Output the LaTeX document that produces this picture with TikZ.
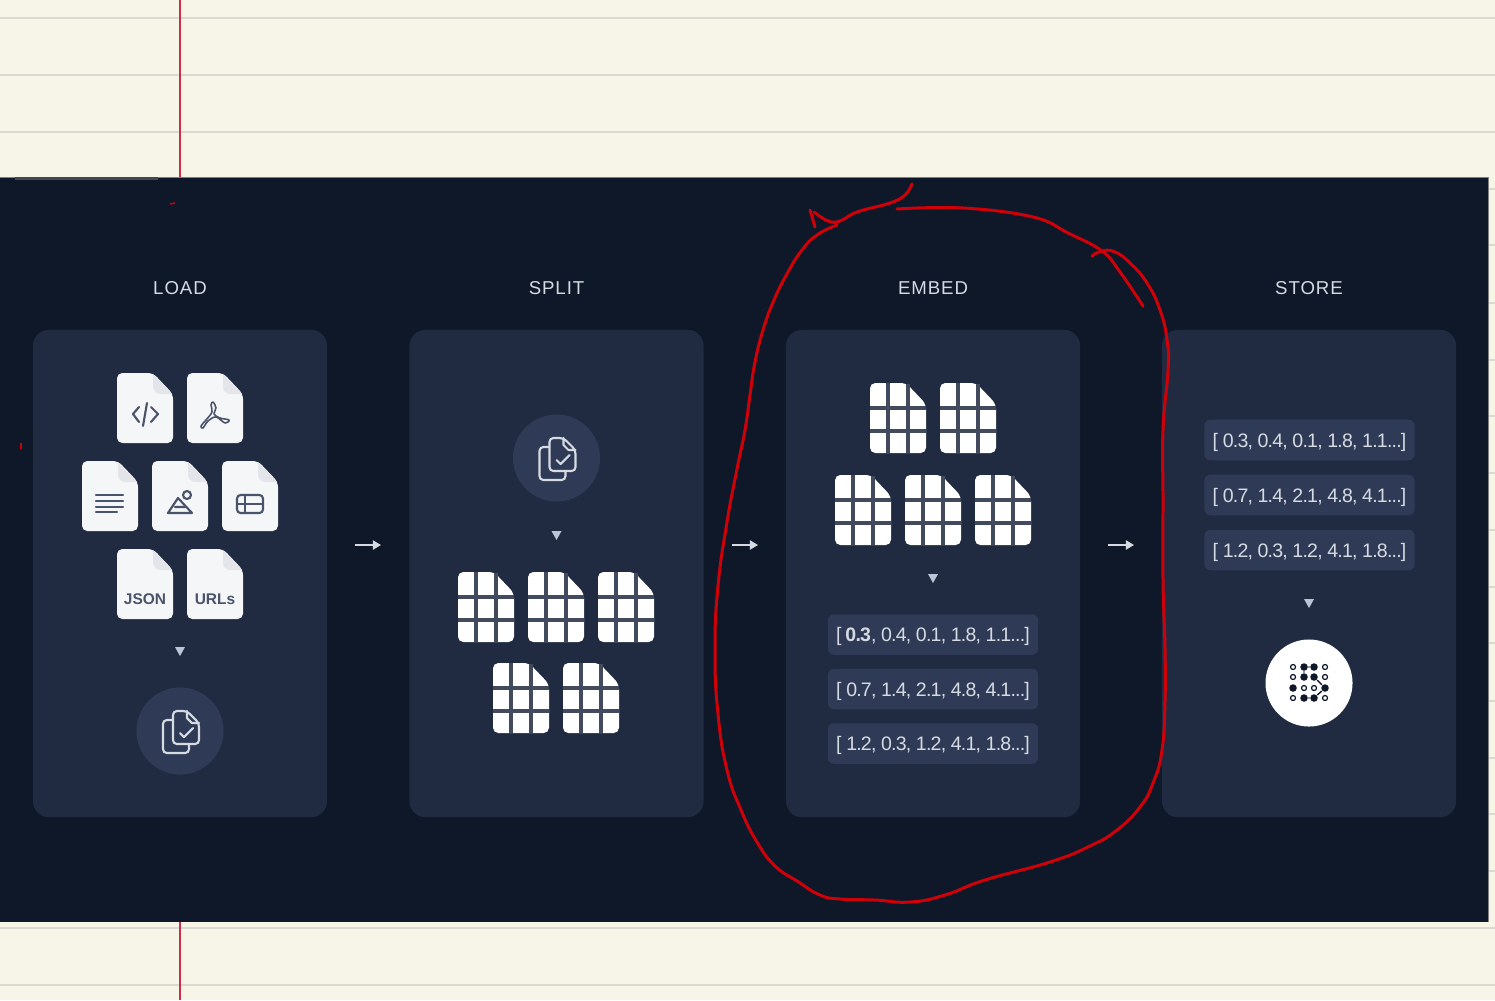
\documentclass[tikz,border=0pt]{standalone}
\usepackage{fontspec}
\setmainfont{Liberation Sans}
\usetikzlibrary{arrows.meta}
\definecolor{paper}{HTML}{F7F5E8}
\definecolor{ruling}{HTML}{DADAD3}
\definecolor{marginred}{HTML}{C9304A}
\definecolor{night}{HTML}{0F1829}
\definecolor{panelblue}{HTML}{202B42}
\definecolor{chipblue}{HTML}{2F3B56}
\definecolor{sheet}{HTML}{F5F6F8}
\definecolor{foldgray}{HTML}{E3E5EA}
\definecolor{glyphgray}{HTML}{49536A}
\definecolor{pale}{HTML}{D6DAE2}
\definecolor{tipgray}{HTML}{B9C5D6}
\definecolor{inkred}{HTML}{D00008}
\begin{document}
\begin{tikzpicture}[x=0.01cm, y=-0.01cm,
	panelbox/.style={shape=rectangle, fill=panelblue, rounded corners=0.16cm, minimum width=2.94cm, minimum height=4.87cm, inner sep=0pt},
	titlelabel/.style={text=pale, font=\fontsize{5.3}{7}\selectfont\addfontfeature{LetterSpace=5}},
	chipbox/.style={shape=rectangle, fill=chipblue, rounded corners=0.06cm, minimum width=2.1cm, minimum height=0.405cm, inner sep=0pt, text=pale, text height=0.14cm, text depth=0pt, font=\fontsize{5.55}{7}\selectfont\addfontfeature{LetterSpace=-4}},
	disc/.style={shape=circle, fill=chipblue, minimum size=0.87cm, inner sep=0pt},
	whitedisc/.style={shape=circle, fill=white, minimum size=0.87cm, inner sep=0pt},
	doctext/.style={text=glyphgray, font=\fontsize{4.4}{6}\selectfont\bfseries},
	glyphline/.style={draw=glyphgray, line width=0.6pt, line cap=round, line join=round},
	flowarrow/.style={draw=pale, line width=0.45pt, -{Triangle[length=2.3pt, width=2.6pt]}},
	inkline/.style={draw=inkred, line width=0.85pt, line cap=round, line join=round},
	dothollow/.style={shape=circle, draw=night, fill=white, line width=0.35pt, minimum size=0.05cm, inner sep=0pt},
	dotsolid/.style={shape=circle, fill=night, minimum size=0.075cm, inner sep=0pt},
	docpage/.pic={
		\fill[sheet, rounded corners=1.5pt] (0,0) -- (36,0) -- (56,21) -- (56,70) -- (0,70) -- cycle;
		\fill[foldgray] (36,1) -- (55,21) -- (44,21) .. controls (39,21) and (36,18) .. (36,13) -- cycle;
	},
	gridpage/.pic={
		\fill[white, rounded corners=1.5pt] (0,0) -- (36,0) -- (56,21) -- (56,70) -- (0,70) -- cycle;
		\draw[panelblue!85!white, line width=0.9pt] (18,0) -- (18,70) (38,1) -- (38,70) (0,25) -- (56,25) (0,48) -- (56,48);
	},
	downmark/.pic={
		\fill[tipgray] (-5,-4) -- (5,-4) -- (0,5) -- cycle;
	},
	copyglyph/.pic={
		\draw[pale, line width=0.6pt, rounded corners=1.1pt] (-7,-11) -- (-17,-11) -- (-17,22) -- (9,22) -- (9,13);
		\draw[pale, line width=0.6pt, rounded corners=1.1pt] (7,-20) -- (-7,-20) -- (-7,13) -- (19,13) -- (19,-8) -- cycle;
		\draw[pale, line width=0.6pt, line cap=round, line join=round] (7,-20) -- (7,-13) -- (12,-8) -- (19,-8);
		\draw[pale, line width=0.6pt, line cap=round, line join=round] (0,2) -- (4,6) -- (13,-3);
	}]
	\useasboundingbox (0,0) rectangle (1495,1000);
	\fill[paper] (0,0) rectangle (1495,1000);
	\foreach \liney in {18,75,132,928,985}
		\draw[ruling, line width=0.4pt] (0,\liney) -- (1495,\liney);
	\foreach \liney in {189,245,303,360,416,473,530,587,643,701,758,814,871}
		\draw[ruling, line width=0.4pt] (1488,\liney) -- (1495,\liney);
	\draw[marginred, line width=0.5pt] (180,0) -- (180,1000);
	\fill[night] (0,177) rectangle (1488,922);
	\draw[gray, line width=0.2pt] (0,177) -- (1488,177) -- (1488,922);
	\fill[gray!45!night] (15,177) rectangle (158,179.5);

	\node[titlelabel] (loadtitle) at (180,288) {LOAD};
	\node[titlelabel] (splittitle) at (556.5,288) {SPLIT};
	\node[titlelabel] (embedtitle) at (933,288) {EMBED};
	\node[titlelabel] (storetitle) at (1309,288) {STORE};

	\node[panelbox] (loadpanel) at (180,573.5) {};
	\node[panelbox] (splitpanel) at (556.5,573.5) {};
	\node[panelbox] (embedpanel) at (933,573.5) {};
	\node[panelbox] (storepanel) at (1309,573.5) {};

	\coordinate (loadout) at (355,545);
	\coordinate (splitin) at (381,545);
	\coordinate (splitout) at (732,545);
	\coordinate (embedin) at (758,545);
	\coordinate (embedout) at (1108,545);
	\coordinate (storein) at (1134,545);
	\draw[flowarrow] (loadout) -- (splitin);
	\draw[flowarrow] (splitout) -- (embedin);
	\draw[flowarrow] (embedout) -- (storein);

	\foreach \docx/\docy in {117/373,187/373,82/461,152/461,222/461,117/549,187/549}
		\pic at (\docx,\docy) {docpage};
	\draw[glyphline] (139,407) -- (133,414) -- (139,422) (147,403) -- (143,426) (151,407) -- (158,414) -- (151,422);
	\draw[glyphline, line width=0.45pt] plot[smooth cycle, tension=0.6] coordinates {(213,402) (216,408) (214,414) (220,418) (229,420) (225,423) (216,417) (208,421) (203,428) (201,426) (206,420) (212,412) (211,405)};
	\draw[glyphline] (96,495) -- (123,495) (96,501) -- (123,501) (96,507) -- (123,507) (96,512) -- (117,512);
	\draw[glyphline] (187,495) circle (4);
	\draw[glyphline] (168,513) -- (178,498) -- (192,513) -- cycle (175,507) -- (185,507);
	\draw[glyphline, rounded corners=1pt] (237,495) rectangle (263,513);
	\draw[glyphline] (237,504) -- (263,504) (245,495) -- (245,513);
	\node[doctext] (jsonlabel) at (145,599) {JSON};
	\node[doctext] (urlslabel) at (215,599) {URLs};

	\pic at (180,651) {downmark};
	\node[disc] (loaddisc) at (180,731) {};
	\pic at (loaddisc) {copyglyph};

	\node[disc] (splitdisc) at (556.5,458) {};
	\pic at (splitdisc) {copyglyph};
	\pic at (556.5,535) {downmark};
	\foreach \docx/\docy in {458/572,528/572,598/572,493/663,563/663}
		\pic at (\docx,\docy) {gridpage};

	\foreach \docx/\docy in {870/383,940/383,835/475,905/475,975/475}
		\pic at (\docx,\docy) {gridpage};
	\pic at (933,578) {downmark};
	\node[chipbox] (embedchipa) at (933,634.5) {[ \textbf{0.3}, 0.4, 0.1, 1.8, 1.1...]};
	\node[chipbox] (embedchipb) at (933,689) {[ 0.7, 1.4, 2.1, 4.8, 4.1...]};
	\node[chipbox] (embedchipc) at (933,743.5) {[ 1.2, 0.3, 1.2, 4.1, 1.8...]};

	\node[chipbox] (storechipa) at (1309.5,440) {[ 0.3, 0.4, 0.1, 1.8, 1.1...]};
	\node[chipbox] (storechipb) at (1309.5,495) {[ 0.7, 1.4, 2.1, 4.8, 4.1...]};
	\node[chipbox] (storechipc) at (1309.5,550) {[ 1.2, 0.3, 1.2, 4.1, 1.8...]};
	\pic at (1309,603) {downmark};
	\node[whitedisc] (storedisc) at (1309,683) {};
	\foreach \dotrow/\doty in {1/667,2/677,3/688,4/698}
		\foreach \dotcol/\dotx in {1/1293,2/1304,3/1314,4/1325}
			\node[dothollow] (dot\dotrow\dotcol) at (\dotx,\doty) {};
	\foreach \dotname/\dotx/\doty in {12/1304/667,13/1314/667,22/1304/677,23/1314/677,31/1293/688,34/1325/688,42/1304/698,43/1314/698}
		\node[dotsolid] (dot\dotname) at (\dotx,\doty) {};
	\draw[night, line width=0.4pt] (dot12) -- (dot13) (dot12) -- (dot22) (dot23) -- (dot34) -- (dot43) -- (dot42);

	\draw[inkline] plot[smooth, tension=0.7] coordinates {(912,184) (905,195) (890,203) (857,212) (840,221) (828,221) (814,212)};
	\draw[inkline] (810,210) -- (815,227);
	\draw[inkline] plot[smooth, tension=0.8] coordinates {(837,225) (817,235) (802,250) (788,272) (774,300) (763,330) (755,362) (750,395) (745,430) (737,469) (727,522) (718,586) (715,650) (718,714) (727,770) (741,810) (757,842) (775,866) (797,881) (820,895) (840,899) (875,900) (910,902) (945,895) (985,880) (1050,862) (1090,846) (1117,830) (1140,807) (1153,783) (1162,750) (1165,700) (1165,650) (1163,580) (1163,500) (1163,430) (1168,370) (1167,340) (1160,310) (1147,283) (1130,263) (1115,252) (1102,251) (1092,256)};
	\draw[inkline] plot[smooth, tension=0.7] coordinates {(897,209) (963,208) (1033,217) (1068,233) (1102,251) (1120,272) (1143,306)};
	\draw[inkred, line width=0.4pt] (170,204) -- (175,203);
	\draw[inkred, line width=0.4pt] (21,443) -- (21,449);
\end{tikzpicture}
\end{document}
